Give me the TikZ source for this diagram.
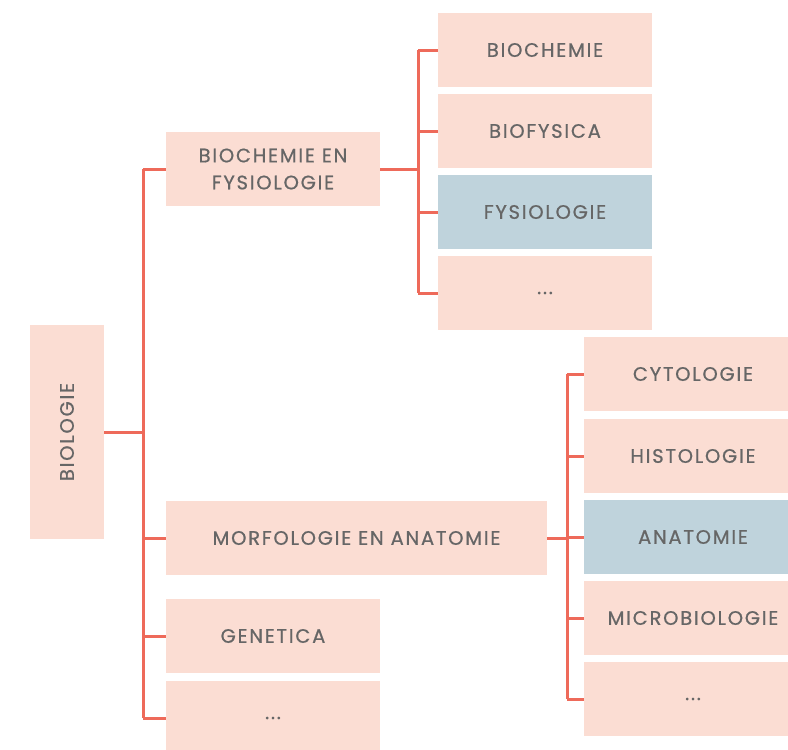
\documentclass[tikz,border=0pt]{standalone}
\usepackage{fontspec}
\setmainfont{Poppins}[LetterSpace=9,FakeBold=0.7]
\definecolor{roze}{HTML}{FBDDD3}
\definecolor{grijsblauw}{HTML}{BFD3DC}
\definecolor{lijn}{HTML}{EE6A5A}
\definecolor{tekst}{HTML}{666666}
\begin{document}
\begin{tikzpicture}[x=1pt,y=-1pt,
  vak/.style={fill=roze,text=tekst,inner sep=0pt,minimum width=214pt,minimum height=74pt,
    align=center,font=\fontsize{19.5}{27}\selectfont},
  accent/.style={vak,fill=grijsblauw},
  tak/.style={draw=lijn,line width=3pt}]
\useasboundingbox (0,0) rectangle (788,750);
\clip (0,0) rectangle (788,750);
% Stamboom van de biologie
\node[vak,minimum width=214pt,minimum height=74pt,rotate=90] (bio) at (67,432) {BIOLOGIE};
\node[vak] (biofys) at (273,169) {BIOCHEMIE EN\\FYSIOLOGIE};
\node[vak,minimum width=381pt] (morf) at (356.5,538) {MORFOLOGIE EN ANATOMIE};
\node[vak] (gen) at (273,636) {GENETICA};
\node[vak] (rest) at (273,718) {...};
\node[vak] (bchem) at (545,50) {BIOCHEMIE};
\node[vak] (bfys) at (545,131) {BIOFYSICA};
\node[accent] (fys) at (545,212) {FYSIOLOGIE};
\node[vak] (restb) at (545,293) {...};
\node[vak,minimum width=218pt] (cyto) at (693,374) {CYTOLOGIE};
\node[vak,minimum width=218pt] (histo) at (693,456) {HISTOLOGIE};
\node[accent,minimum width=218pt] (anat) at (693,537) {ANATOMIE};
\node[vak,minimum width=218pt] (micro) at (693,618) {MICROBIOLOGIE};
\node[vak,minimum width=218pt] (restm) at (693,699) {...};
\coordinate (s1) at (143,0);
\coordinate (s2) at (418,0);
\coordinate (s3) at (567,0);
% eerste splitsing
\draw[tak] (bio.south) -- (s1 |- bio.south);
\draw[tak] (s1 |- biofys.west) -- (s1 |- rest.west);
\foreach \n in {biofys,morf,gen,rest}
  \draw[tak] (s1 |- \n.west) -- (\n.west);
% tweede splitsing
\draw[tak] (biofys.east) -- (s2 |- biofys.east);
\draw[tak] (s2 |- bchem.west) -- (s2 |- restb.west);
\foreach \n in {bchem,bfys,fys,restb}
  \draw[tak] (s2 |- \n.west) -- (\n.west);
% derde splitsing
\draw[tak] (morf.east) -- (s3 |- morf.east);
\draw[tak] (s3 |- cyto.west) -- (s3 |- restm.west);
\foreach \n in {cyto,histo,anat,micro,restm}
  \draw[tak] (s3 |- \n.west) -- (\n.west);
\end{tikzpicture}
\end{document}
